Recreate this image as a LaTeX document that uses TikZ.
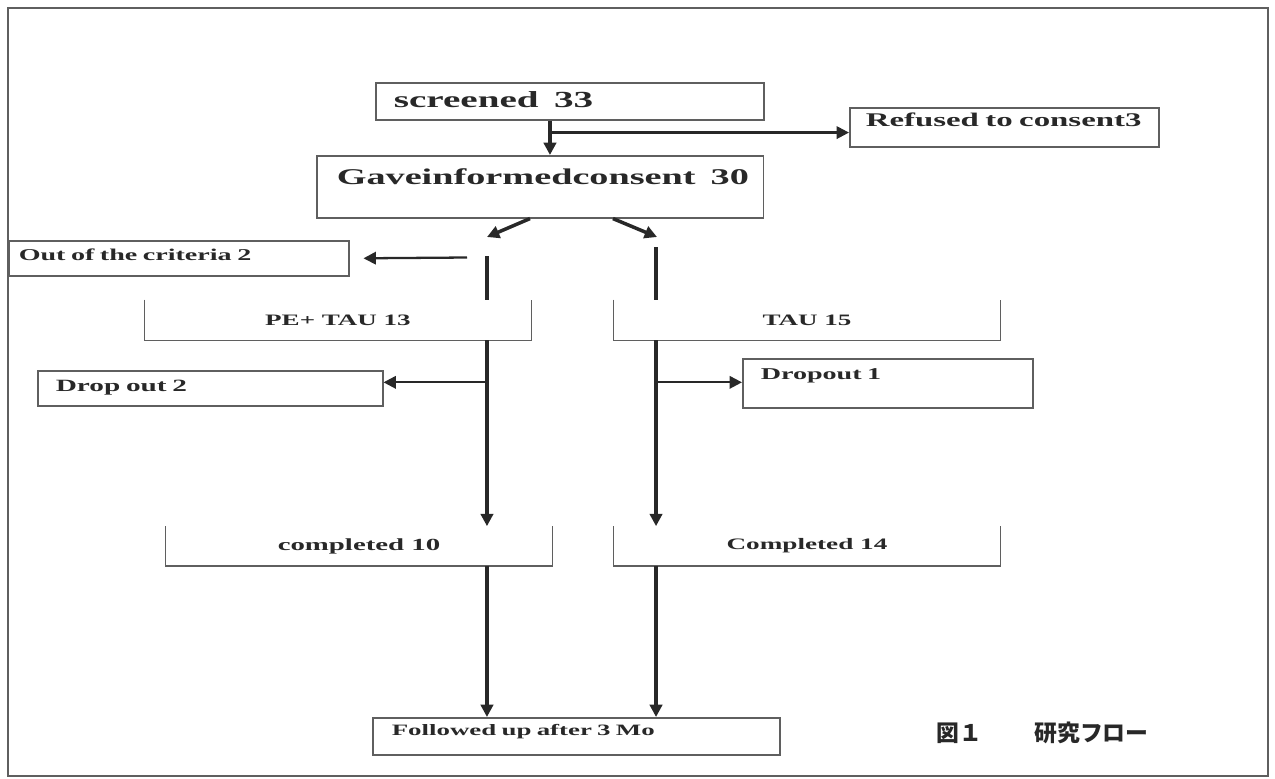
\documentclass[tikz,border=0pt]{standalone}
\usepackage{fontspec}
\usepackage{tikz}
\usetikzlibrary{arrows.meta, calc}
\newfontfamily\jpfont{Noto Sans CJK JP}
\newfontfamily\boxfont{Liberation Serif}[FakeStretch=1.7]
\definecolor{boxgray}{RGB}{95, 95, 95}
\definecolor{flowgray}{RGB}{40, 40, 40}
\tikzset{
  box/.style={draw=boxgray, line width=0.9pt, anchor=north west, inner ysep=0pt, align=left, text=flowgray,
    font={\boxfont\bfseries\fontsize{#1}{#1}\selectfont}},
  bracket/.style={minimum width=7.72cm, minimum height=0.8cm, inner sep=0pt, text=flowgray,
    font={\boxfont\bfseries\fontsize{#1}{#1}\selectfont}},
  boxline/.style={draw=boxgray, line width=0.9pt},
  flow/.style={draw=flowgray, line width=2pt},
  arr/.style={flow, -{Triangle[length=7pt, width=7pt]}},
  side/.style={arr, line width=1.3pt}
}

\begin{document}
\begin{tikzpicture}[x=0.02cm, y=-0.02cm]
  \useasboundingbox (0,0) rectangle (1275,778);
  % Frame
  \draw[boxline] (8,8) rectangle (1268,776);

  % Screening and consent
  \node[box=13.1pt, text width=7.04cm, inner xsep=0.36cm, text height=0.5cm, text depth=0.24cm] (screened) at (375,82) {screened\ \ 33};
  \node[box=11pt, text width=5.54cm, inner xsep=0.32cm, text height=0.38cm, text depth=0.4cm] (refused) at (849,107) {Refused to consent3};
  \node[box=12.8pt, text width=8.54cm, inner xsep=0.2cm, text height=0.57cm, text depth=0.67cm] (consent) at (316,155) {\hspace*{0.2cm}Gaveinformedconsent\ \ 30};
  \node[box=9.4pt, text width=6.4cm, inner xsep=0.2cm, text height=0.4cm, text depth=0.3cm] (criteria) at (8,240) {Out of the criteria 2};

  % Arms
  \node[bracket=9.05pt] (pe) at (338,320) {PE+ TAU 13};
  \node[bracket=9.05pt] (tau) at (807,320) {TAU 15};
  \node[box=9.8pt, text width=6.18cm, inner xsep=0.36cm, text height=0.42cm, text depth=0.28cm] (dropA) at (37,370) {Drop out 2};
  \node[box=9.4pt, text width=5.08cm, inner xsep=0.36cm, text height=0.42cm, text depth=0.56cm] (dropB) at (742,358) {Dropout 1};
  \node[bracket=9.65pt, minimum height=0.78cm] (doneA) at (359,546) {completed 10};
  \node[bracket=9.1pt, minimum height=0.78cm] (doneB) at (807,546) {Completed 14};

  % Follow-up
  \node[box=9pt, text width=7.38cm, inner xsep=0.38cm, text height=0.36cm, text depth=0.38cm] (follow) at (372,717) {Followed up after 3 Mo};
  \node[anchor=west, text=flowgray, font=\jpfont\fontsize{13pt}{15pt}\selectfont\bfseries] (caption) at (930,733) {図１\hspace{1.05cm}研究フロー};

  % open-top boxes
  \foreach \n in {pe, tau, doneA, doneB}
    \draw[boxline] (\n.north west) |- (\n.south east) -- (\n.north east);

  % screened -> consent, refused
  \coordinate (down) at ([xshift=3.5cm]screened.south west);
  \coordinate (split) at ([xshift=3.5cm, yshift=-0.24cm]screened.south west);
  \draw[arr] (down) -- (down |- consent.north);
  \draw[side] (split) -- (split -| refused.west);

  % consent -> two arms
  \coordinate (forkL) at (487,237);
  \coordinate (forkR) at (657,237);
  \draw[arr] ([xshift=4.28cm]consent.south west) -- (forkL);
  \draw[arr] ([xshift=5.94cm]consent.south west) -- (forkR);
  \coordinate (stubL) at (487,256);
  \coordinate (stubR) at (656,247);
  \draw[flow] (stubL) -- (stubL |- pe.north);
  \draw[flow] (stubR) -- (stubR |- tau.north);
  \coordinate (exclude) at (467,257.5);
  \draw[side] (exclude) -- ([xshift=0.28cm]criteria.east);

  % arms -> completed, dropouts
  \coordinate (armA) at ([xshift=2.98cm]pe.south);
  \coordinate (armB) at ([xshift=-3.02cm]tau.south);
  \coordinate (splitA) at ([yshift=-0.84cm]armA);
  \coordinate (splitB) at ([yshift=-0.84cm]armB);
  \draw[arr] (armA) -- (armA |- doneA.north);
  \draw[arr] (armB) -- (armB |- doneB.north);
  \draw[side] (splitA) -- (splitA -| dropA.east);
  \draw[side] (splitB) -- (splitB -| dropB.west);

  % completed -> follow-up
  \coordinate (endA) at ([xshift=2.56cm]doneA.south);
  \coordinate (endB) at ([xshift=-3.02cm]doneB.south);
  \draw[arr] (endA) -- (endA |- follow.north);
  \draw[arr] (endB) -- (endB |- follow.north);
\end{tikzpicture}
\end{document}
